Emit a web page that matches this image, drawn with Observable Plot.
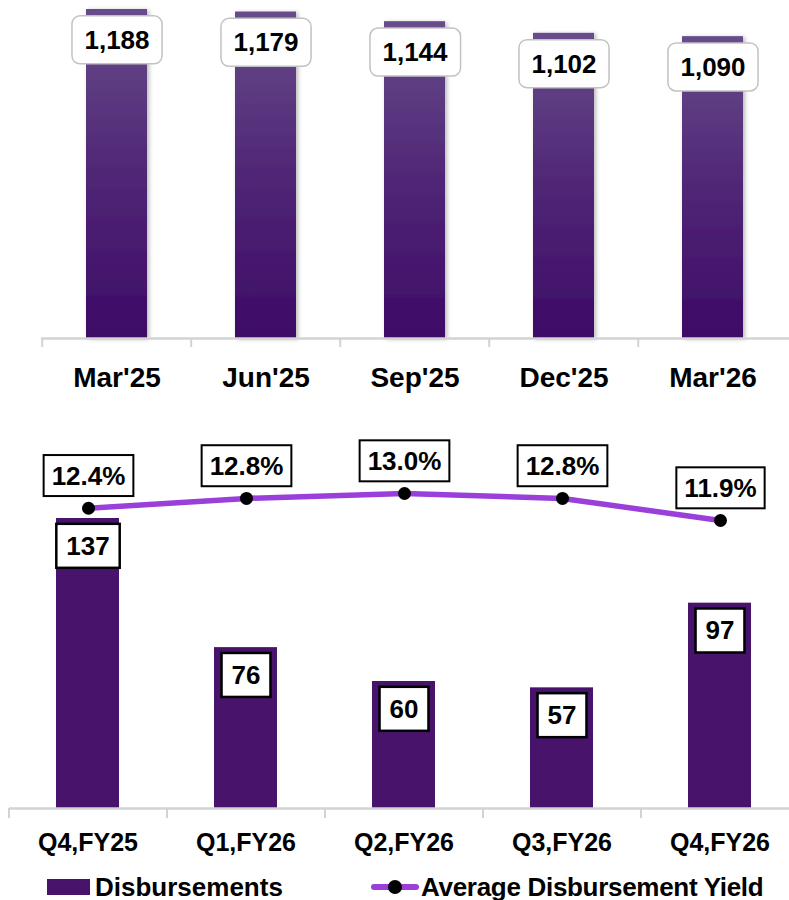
<!DOCTYPE html>
<html><head><meta charset="utf-8">
<script src="https://cdn.jsdelivr.net/npm/d3@7"></script>
<script src="https://cdn.jsdelivr.net/npm/@observablehq/plot@0.6"></script>
<style>
body{margin:0;background:#fff;font-family:"Liberation Sans",Arial,Helvetica,sans-serif}
#wrap{position:relative;width:789px;height:900px;overflow:hidden}
#wrap svg{position:absolute;left:0;overflow:visible}
.legend{position:absolute;top:870px;left:0;width:789px;height:34px;font-weight:700;font-size:26px;color:#000}
.legend .item{position:absolute;top:0;display:flex;align-items:center;height:34px;white-space:nowrap}
</style></head>
<body><div id="wrap"></div>
<script>
// ---- data ----
const periods = ["Mar'25", "Jun'25", "Sep'25", "Dec'25", "Mar'26"];
const aum = [1188, 1179, 1144, 1102, 1090];
const quarters = ["Q4,FY25", "Q1,FY26", "Q2,FY26", "Q3,FY26", "Q4,FY26"];
const disbursements = [137, 76, 60, 57, 97];
const yields = [12.4, 12.8, 13.0, 12.8, 11.9];
const legendLabels = ["Disbursements", "Average Disbursement Yield"];

const W = 789;
const FONT = '"Liberation Sans", Arial, Helvetica, sans-serif';
const wrap = document.getElementById("wrap");

const topData = periods.map((p, i) => ({period: p, value: aum[i]}));
const botData = quarters.map((q, i) => ({q, value: disbursements[i], yld: yields[i]}));

// ---- top chart ----
const topML = 41, topMR = 0;
const topStep = (W - topML - topMR) / periods.length;
const topPlot = Plot.plot({
  width: W, height: 400,
  marginTop: 9, marginBottom: 62, marginLeft: topML, marginRight: topMR,
  style: {fontFamily: FONT, overflow: "visible", background: "transparent"},
  x: {domain: periods, paddingInner: 0.59, paddingOuter: 0.295, axis: null},
  y: {domain: [0, d3.max(aum)], axis: null},
  marks: [
    Plot.barY(topData, {x: "period", y: "value", fill: "url(#topGrad)", ariaDescription: "topbars"}),
    Plot.ruleY([0], {stroke: "#d3d3d3", strokeWidth: 2.5}),
    Plot.axisX({tickSize: 9, dx: -topStep / 2, stroke: "#d3d3d3", strokeWidth: 2, tickFormat: () => "", label: null}),
    Plot.axisX({tickSize: 0, tickPadding: 29, fontSize: 28, fontWeight: 700, fill: "#000", tickFormat: d => d, label: null}),
    Plot.text(topData, {x: "period", y: "value", text: d => d3.format(",")(d.value), dy: 31,
      fontSize: 26, fontWeight: 700, fill: "#000", ariaDescription: "toplabels"})
  ]
});
topPlot.style.top = "0px";
wrap.appendChild(topPlot);

// ---- bottom chart ----
const botML = 9, botMR = -10, botH = 460, botTop = 400;
const botStep = (W - botML - botMR) / quarters.length;
const botPlot = Plot.plot({
  width: W, height: botH,
  marginTop: 118, marginBottom: 52, marginLeft: botML, marginRight: botMR,
  style: {fontFamily: FONT, overflow: "visible", background: "transparent"},
  x: {domain: quarters, paddingInner: 0.6, paddingOuter: 0.3, axis: null},
  y: {domain: [0, d3.max(disbursements)], axis: null},
  marks: [
    Plot.barY(botData, {x: "q", y: "value", fill: "#47136b"}),
    Plot.ruleY([0], {stroke: "#d3d3d3", strokeWidth: 2.5}),
    Plot.axisX({tickSize: 10, dx: -botStep / 2, stroke: "#d3d3d3", strokeWidth: 2, tickFormat: () => "", label: null}),
    Plot.axisX({tickSize: 0, tickPadding: 25, fontSize: 25, fontWeight: 700, fill: "#000", tickFormat: d => d, label: null}),
    Plot.text(botData, {x: "q", y: "value", text: d => String(d.value), dy: 28,
      fontSize: 26, fontWeight: 700, fill: "#000", ariaDescription: "botlabels"})
  ]
});
botPlot.style.top = botTop + "px";
wrap.appendChild(botPlot);

// ---- yield overlay (secondary scale) ----
const yPlot = Plot.plot({
  width: W, height: botH,
  marginTop: 93, marginBottom: 340, marginLeft: botML, marginRight: botMR,
  style: {fontFamily: FONT, overflow: "visible", background: "transparent"},
  x: {domain: quarters, paddingInner: 0.6, paddingOuter: 0.3, axis: null},
  y: {domain: [d3.min(yields), d3.max(yields)], axis: null},
  marks: [
    Plot.line(botData, {x: "q", y: "yld", stroke: "#9a3fda", strokeWidth: 5.5}),
    Plot.dot(botData, {x: "q", y: "yld", r: 6.5, fill: "#000"}),
    Plot.text(botData, {x: "q", y: "yld", text: d => d.yld.toFixed(1) + "%", dy: -32,
      fontSize: 26, fontWeight: 700, fill: "#000", ariaDescription: "ylabels"})
  ]
});
yPlot.style.top = botTop + "px";
yPlot.style.pointerEvents = "none";
wrap.appendChild(yPlot);

// gradient + shadow for top bars
const tsvg = d3.select(topPlot);
tsvg.insert("defs", ":first-child").html(
  '<linearGradient id="topGrad" x1="0" y1="0" x2="0" y2="1">' +
  '<stop offset="0" stop-color="#684c8b"/><stop offset="0.45" stop-color="#522a78"/><stop offset="1" stop-color="#3d0a66"/></linearGradient>' +
  '<filter id="shadow" x="-20%" y="-20%" width="150%" height="150%"><feDropShadow dx="2" dy="1" stdDeviation="2" flood-color="#000" flood-opacity="0.28"/></filter>'
);
tsvg.select('g[aria-description="topbars"]').attr("filter", "url(#shadow)");

// label boxes
function boxes(root, desc, opt) {
  d3.select(root).selectAll(`g[aria-description="${desc}"] text`).each(function() {
    const bb = this.getBBox();
    const w = bb.width + 2 * opt.padX, h = opt.h;
    const cx = bb.x + bb.width / 2, cy = bb.y + bb.height / 2 + opt.shift;
    const r = document.createElementNS("http://www.w3.org/2000/svg", "rect");
    r.setAttribute("x", cx - w / 2); r.setAttribute("y", cy - h / 2);
    r.setAttribute("width", w); r.setAttribute("height", h);
    r.setAttribute("rx", opt.rx); r.setAttribute("fill", "#fff");
    r.setAttribute("stroke", opt.stroke); r.setAttribute("stroke-width", opt.sw);
    const t = this.getAttribute("transform"); if (t) r.setAttribute("transform", t);
    this.parentNode.insertBefore(r, this);
  });
}
boxes(topPlot, "toplabels", {padX: 12.5, h: 48, rx: 8, stroke: "#c2c2c2", sw: 1.5, shift: 0});
boxes(botPlot, "botlabels", {padX: 10, h: 44, rx: 0, stroke: "#000", sw: 2.5, shift: 0});
boxes(yPlot, "ylabels", {padX: 8, h: 41, rx: 0, stroke: "#000", sw: 2, shift: 0});

// ---- legend ----
const leg = document.createElement("div");
leg.className = "legend";
leg.innerHTML =
  `<div class="item" style="left:47px"><span style="display:inline-block;width:43px;height:16px;background:#47136b;margin-right:5px"></span>${legendLabels[0]}</div>` +
  `<div class="item" style="left:371px"><svg width="48" height="16" style="position:static;margin-right:2px"><line x1="3" y1="8" x2="45" y2="8" stroke="#9a3fda" stroke-width="6" stroke-linecap="round"/><circle cx="24" cy="8" r="7" fill="#000"/></svg><span style="letter-spacing:-0.3px">${legendLabels[1]}</span></div>`;
wrap.appendChild(leg);
</script>
</body></html>
